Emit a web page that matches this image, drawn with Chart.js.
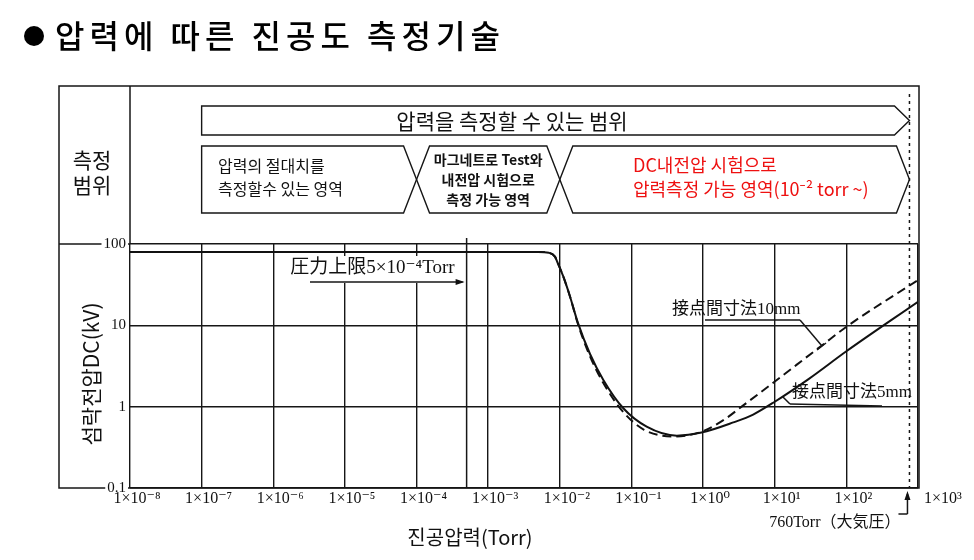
<!DOCTYPE html>
<html>
<head>
<meta charset="utf-8">
<script src="https://cdn.jsdelivr.net/npm/chart.js@4"></script>
<style>
  body { margin: 0; background: #fff; }
  canvas { display: block; }
</style>
</head>
<body>
<canvas id="chart" width="974" height="560"></canvas>
<script>
// axis ticks
const decades = [1e-8, 1e-7, 1e-6, 1e-5, 1e-4, 1e-3, 1e-2, 1e-1, 1e0, 1e1, 1e2, 1e3];
const xTickText = ["1×10⁻⁸", "1×10⁻⁷", "1×10⁻⁶", "1×10⁻⁵", "1×10⁻⁴", "1×10⁻³",
  "1×10⁻²", "1×10⁻¹", "1×10⁰", "1×10¹", "1×10²", "1×10³"];
const yTicks = [0.1, 1, 10, 100];
const yTickText = ["0.1", "1", "10", "100"];

// gap 5mm (solid)
const pressure5 = [1e-8, 1e-3, 5e-3, 7e-3, 8.55e-3, 9.2e-3, 0.0112, 0.0139, 0.0179, 0.0264, 0.0405,
  0.077, 0.163, 0.43, 0.95, 2.64, 5, 10, 30, 100, 1000];
const volt5 = [80, 80, 80, 78, 70, 60.5, 39.6, 22.5, 10.7, 4.44, 2.13,
  0.955, 0.568, 0.44, 0.48, 0.64, 0.8, 1.15, 2.2, 4.8, 19.5];

// gap 10mm (dashed)
const pressure10 = [1e-8, 1e-3, 5e-3, 7e-3, 8.55e-3, 9.2e-3, 0.0112, 0.0139, 0.0179, 0.0264, 0.0405,
  0.075, 0.15, 0.4, 1, 2, 3.45, 8.9, 46, 107, 1000];
const volt10 = [80, 80, 80, 78, 70, 60.5, 39.6, 22.5, 10.4, 4.15, 1.95,
  0.88, 0.52, 0.43, 0.5, 0.7, 1.0, 1.88, 5.7, 10, 36];

// measuring ranges (Torr)
const upperLimit = 5e-4;
const atmosphere = 760;
const rangeFrom = [1e-7, 1e-4, 1e-2];
const rangeTo = [1e-4, 1e-2, 760];

const toPoints = (xs, ys) => xs.map((x, i) => ({ x: x, y: ys[i] }));

const KR = '"Noto Sans CJK KR", "Noto Sans", sans-serif';
const SERIF = '"Liberation Serif", "DejaVu Serif", "Noto Sans CJK JP", serif';
const INK = "#161616";

function line(ctx, x1, y1, x2, y2) {
  ctx.beginPath();
  ctx.moveTo(x1, y1);
  ctx.lineTo(x2, y2);
  ctx.stroke();
}

function arrowHead(ctx, x, y, dir) {
  // dir: 1 = right, -1 = up
  ctx.beginPath();
  if (dir === 1) {
    ctx.moveTo(x, y); ctx.lineTo(x - 9, y - 3); ctx.lineTo(x - 9, y + 3);
  } else {
    ctx.moveTo(x, y); ctx.lineTo(x - 3, y + 9); ctx.lineTo(x + 3, y + 9);
  }
  ctx.closePath();
  ctx.fill();
}

// box with optional pointed ends; x1/x2 are the outer tips
function rangeBox(ctx, x1, x2, top, bot, pointLeft, pointRight, d) {
  const mid = (top + bot) / 2;
  ctx.beginPath();
  if (pointLeft) {
    ctx.moveTo(x1 + d, top);
  } else {
    ctx.moveTo(x1, top);
  }
  if (pointRight) {
    ctx.lineTo(x2 - d, top); ctx.lineTo(x2, mid); ctx.lineTo(x2 - d, bot);
  } else {
    ctx.lineTo(x2, top); ctx.lineTo(x2, bot);
  }
  if (pointLeft) {
    ctx.lineTo(x1 + d, bot); ctx.lineTo(x1, mid); ctx.closePath();
  } else {
    ctx.lineTo(x1, bot); ctx.closePath();
  }
  ctx.stroke();
}

const decorations = {
  id: "decorations",
  beforeDatasetsDraw(chart) {
    const ctx = chart.ctx;
    const xs = chart.scales.x;
    const area = chart.chartArea;
    ctx.save();
    // upper limit line
    const xl = xs.getPixelForValue(upperLimit);
    ctx.strokeStyle = INK;
    ctx.lineWidth = 1.5;
    line(ctx, xl, area.top - 6, xl, area.bottom);
    // white patch behind the upper-limit label
    ctx.fillStyle = "#fff";
    ctx.fillRect(280, 256, xl - 282, 27);
    ctx.restore();
  },
  afterDraw(chart) {
    const ctx = chart.ctx;
    const xs = chart.scales.x;
    const ys = chart.scales.y;
    const area = chart.chartArea;
    ctx.save();

    // title
    ctx.fillStyle = "#000";
    ctx.beginPath();
    ctx.arc(34, 36, 10, 0, Math.PI * 2);
    ctx.fill();
    ctx.font = "500 32px " + KR;
    ctx.textBaseline = "middle";
    ctx.textAlign = "left";
    ctx.letterSpacing = "5px";
    ctx.fillText("압력에 따른 진공도 측정기술", 55, 36);
    ctx.letterSpacing = "0px";

    // frame
    ctx.strokeStyle = INK;
    ctx.lineWidth = 1.5;
    ctx.strokeRect(59, 86, area.right + 1 - 59, area.bottom - 86);
    line(ctx, area.left, 86, area.left, area.top);
    line(ctx, 59, area.top, area.left, area.top);

    // 측정 범위
    ctx.font = "21px " + KR;
    ctx.textAlign = "center";
    ctx.fillStyle = "#111";
    ctx.fillText("측정", 92, 160);
    ctx.fillText("범위", 92, 185);

    // range boxes
    const tipA = xs.getPixelForValue(rangeFrom[0]);
    const tipEnd = xs.getPixelForValue(atmosphere);
    ctx.lineWidth = 1.4;
    rangeBox(ctx, tipA, tipEnd, 106, 135, false, true, 15);
    const bTop = 146, bBot = 213;
    rangeFrom.forEach((from, i) => {
      rangeBox(ctx, xs.getPixelForValue(from), xs.getPixelForValue(rangeTo[i]),
        bTop, bBot, i > 0, true, 13);
    });

    ctx.fillStyle = "#111";
    ctx.font = "21px " + KR;
    ctx.textAlign = "center";
    ctx.fillText("압력을 측정할 수 있는 범위", 512, 121);

    ctx.font = "16px " + KR;
    ctx.textAlign = "left";
    ctx.fillText("압력의 절대치를", 218, 166);
    ctx.fillText("측정할수 있는 영역", 218, 189);

    ctx.font = "bold 14px " + KR;
    ctx.textAlign = "center";
    const c2 = (xs.getPixelForValue(rangeFrom[1]) + xs.getPixelForValue(rangeTo[1])) / 2;
    ctx.fillText("마그네트로 Test와", c2, 160);
    ctx.fillText("내전압 시험으로", c2, 180);
    ctx.fillText("측정 가능 영역", c2, 200);

    ctx.fillStyle = "#ee1111";
    ctx.font = "18px " + KR;
    ctx.textAlign = "left";
    ctx.fillText("DC내전압 시험으로", 633, 165);
    ctx.fillText("압력측정 가능 영역(10⁻² torr ~)", 633, 189);

    // atmosphere dotted line
    ctx.strokeStyle = INK;
    ctx.lineWidth = 1.5;
    ctx.setLineDash([3, 4]);
    line(ctx, tipEnd, 94, tipEnd, area.bottom);
    ctx.setLineDash([]);

    // y tick labels
    ctx.font = "15px " + SERIF;
    ctx.textAlign = "right";
    ctx.fillStyle = "#111";
    yTicks.forEach((v, i) => {
      const y = ys.getPixelForValue(v);
      const w = ctx.measureText(yTickText[i]).width;
      ctx.fillStyle = "#fff";
      ctx.fillRect(area.left - 4 - w - 2, y - 7, w + 4, 13);
      ctx.fillStyle = "#111";
      ctx.fillText(yTickText[i], area.left - 4, y);
    });

    // x tick labels
    ctx.font = "16px " + SERIF;
    ctx.textAlign = "center";
    decades.forEach((v, i) => {
      const x = xs.getPixelForValue(v);
      const off = i === decades.length - 1 ? 25 : 7;
      ctx.fillText(xTickText[i], x + off, area.bottom + 11);
    });

    // atmosphere marker below the axis
    ctx.lineWidth = 1.5;
    line(ctx, tipEnd - 2, area.bottom + 26, tipEnd - 2, area.bottom + 6);
    arrowHead(ctx, tipEnd - 2, area.bottom + 3, -1);
    line(ctx, tipEnd - 11, area.bottom + 26, tipEnd - 2, area.bottom + 26);
    ctx.font = "16px " + SERIF;
    ctx.textAlign = "right";
    ctx.fillText("760Torr（大気圧）", tipEnd - 9, area.bottom + 35);

    // axis titles
    ctx.font = "20px " + KR;
    ctx.textAlign = "center";
    ctx.fillText("진공압력(Torr)", 470, 537);
    ctx.save();
    ctx.translate(91, 374);
    ctx.rotate(-Math.PI / 2);
    ctx.font = "21px " + KR;
    ctx.fillText("섬락전압DC(kV)", 0, 0);
    ctx.restore();

    // upper limit label
    const xl = xs.getPixelForValue(upperLimit);
    ctx.font = "19px " + SERIF;
    ctx.textAlign = "right";
    ctx.fillText("圧力上限5×10⁻⁴Torr", xl - 12, 268);
    line(ctx, 310, 282, xl - 4, 282);
    arrowHead(ctx, xl - 2, 282, 1);

    // gap labels
    ctx.font = "17px " + SERIF;
    ctx.textAlign = "left";
    ctx.fillText("接点間寸法10mm", 672, 310);
    line(ctx, 705, 320, 800, 320);
    line(ctx, 800, 320, 822, 346);
    line(ctx, 817, 350, 826, 343);

    ctx.fillText("接点間寸法5mm", 792, 393);
    line(ctx, 783, 397, 790, 404);
    line(ctx, 790, 404, 882, 406);

    ctx.restore();
  }
};

new Chart(document.getElementById("chart"), {
  type: "scatter",
  data: {
    datasets: [
      {
        label: "接点間寸法5mm",
        data: toPoints(pressure5, volt5),
        showLine: true,
        borderColor: "#111",
        borderWidth: 2,
        pointRadius: 0,
        cubicInterpolationMode: "monotone"
      },
      {
        label: "接点間寸法10mm",
        data: toPoints(pressure10, volt10),
        showLine: true,
        borderColor: "#111",
        borderWidth: 2,
        borderDash: [9, 5],
        pointRadius: 0,
        cubicInterpolationMode: "monotone"
      }
    ]
  },
  options: {
    responsive: false,
    animation: false,
    layout: { padding: { left: 130, right: 56, top: 244, bottom: 72 } },
    plugins: {
      legend: { display: false },
      tooltip: { enabled: false }
    },
    scales: {
      x: {
        type: "logarithmic",
        min: 1e-8,
        max: 1e3,
        afterBuildTicks: (s) => { s.ticks = decades.map((v) => ({ value: v })); },
        ticks: { display: false },
        grid: { color: INK, lineWidth: 1.4, drawTicks: false },
        border: { display: false }
      },
      y: {
        type: "logarithmic",
        min: 0.1,
        max: 100,
        afterBuildTicks: (s) => { s.ticks = yTicks.map((v) => ({ value: v })); },
        ticks: { display: false },
        grid: { color: INK, lineWidth: 1.4, drawTicks: false },
        border: { display: false }
      }
    }
  },
  plugins: [decorations]
});
</script>
</body>
</html>
